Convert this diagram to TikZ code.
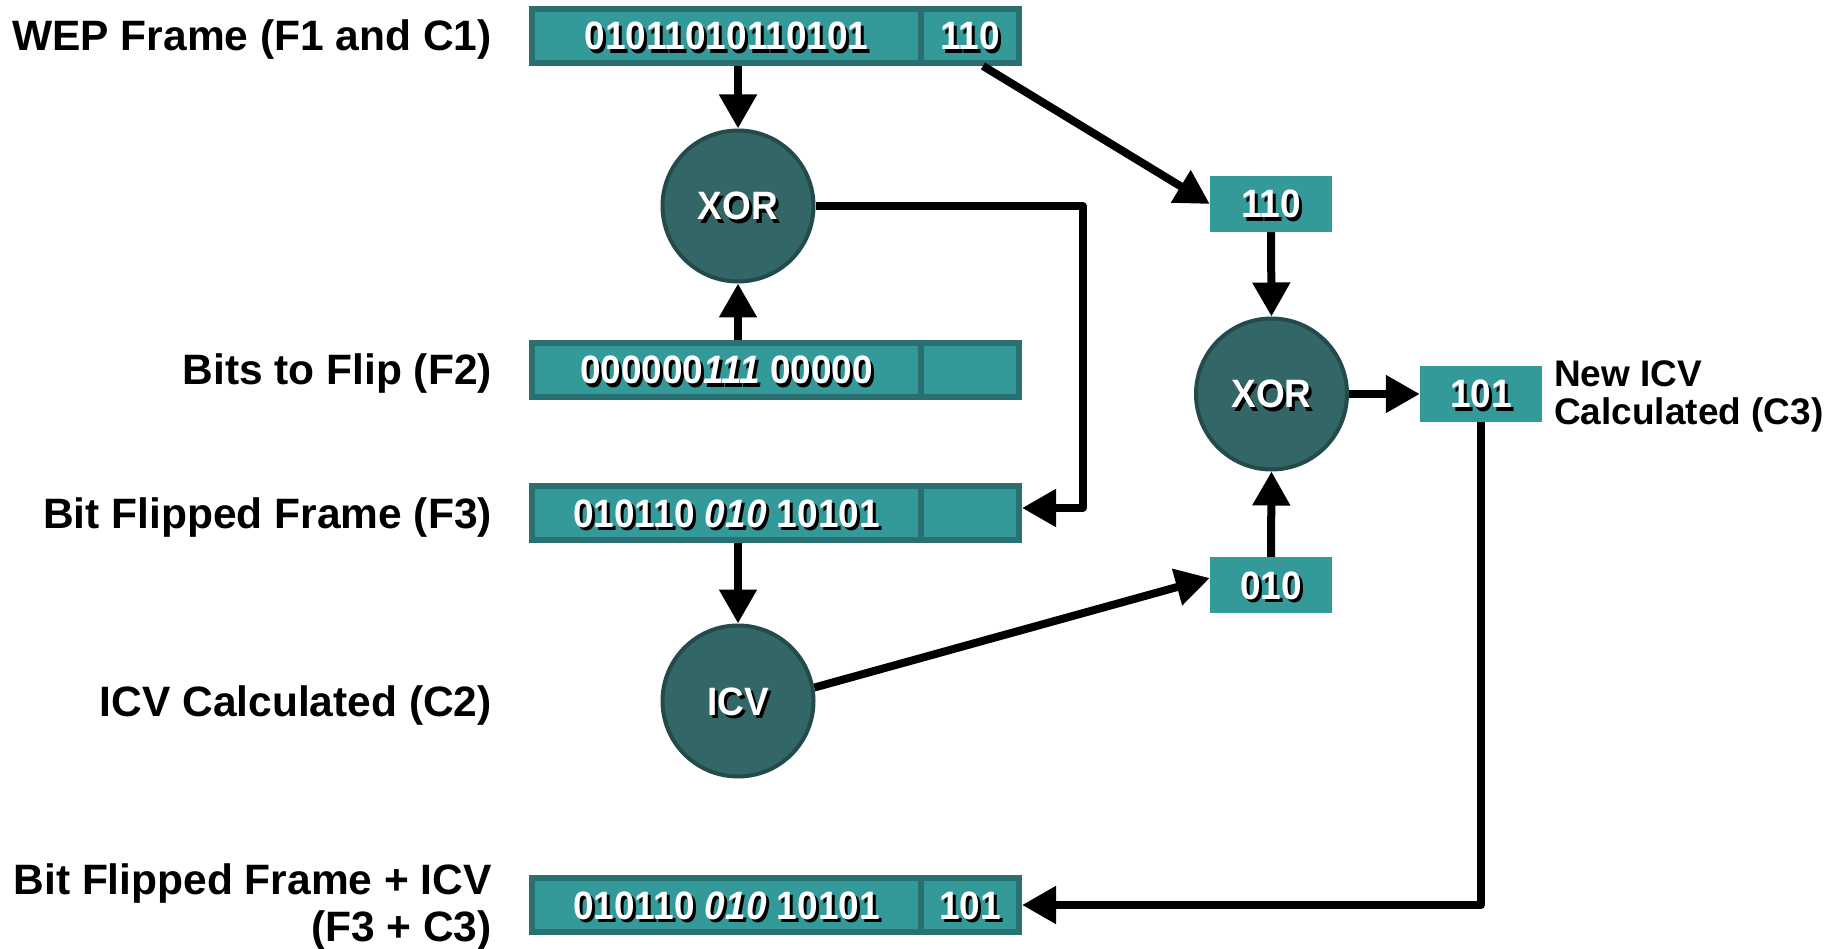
\documentclass[tikz,border=0pt]{standalone}
\usepackage{fontspec}
\setmainfont{Liberation Sans}
\usetikzlibrary{arrows.meta}

\definecolor{cellfill}{HTML}{339999}
\definecolor{cellline}{HTML}{2A7070}
\definecolor{gatefill}{HTML}{336666}
\definecolor{gateline}{HTML}{234B4B}

% white text with a dark drop shadow, set slightly taller than wide
\newcommand\shadowed[1]{\scalebox{1}[1.07]{\rlap{\kern3pt\raisebox{-3pt}{\color{black}#1}}#1}}

\begin{document}
\begin{tikzpicture}[x=1pt,y=-1pt,
  cell/.style={draw=cellline, fill=cellfill, line width=6pt, minimum height=54pt,
    inner sep=0pt, text=white, font=\fontsize{37}{40}\selectfont\bfseries,
    text height=28pt, text depth=0pt},
  datacell/.style={cell, minimum width=389pt},
  icvcell/.style={cell, minimum width=98pt},
  bitbox/.style={fill=cellfill, minimum width=122pt, minimum height=56pt, inner sep=0pt,
    text=white, font=\fontsize{37}{40}\selectfont\bfseries, text height=28pt, text depth=0pt},
  gate/.style={circle, draw=gateline, fill=gatefill, line width=4pt, minimum size=151pt,
    inner sep=0pt, text=white, font=\fontsize{37}{38}\selectfont\bfseries,
    text height=28pt, text depth=0pt},
  rowlabel/.style={font=\fontsize{42.5}{48}\selectfont\bfseries, inner sep=0pt, anchor=base east},
  sidelabel/.style={font=\fontsize{37}{38}\selectfont\bfseries, inner sep=0pt, anchor=base west},
  arr/.style={line width=8pt, line join=round, -{Triangle[length=34pt,width=36pt]}}
]
\useasboundingbox (0,0) rectangle (1832,949);

% row labels
\node[rowlabel] (lf1) at (492,51)  {WEP Frame (F1 and C1)};
\node[rowlabel] (lf2) at (492,385) {Bits to Flip (F2)};
\node[rowlabel] (lf3) at (492,528) {Bit Flipped Frame (F3)};
\node[rowlabel] (lc2) at (492,716) {ICV Calculated (C2)};
\node[rowlabel] (lf4a) at (492,894) {Bit Flipped Frame + ICV};
\node[rowlabel] (lf4b) at (492,941) {(F3 + C3)};

% frames: data part + ICV part
\node[datacell] (f1l) at (726.5,36) {\shadowed{01011010110101}};
\node[icvcell]  (f1r) at (970,36)   {\shadowed{110}};
\node[datacell] (f2l) at (726.5,370) {\shadowed{000000\textit{111} 00000}};
\node[icvcell]  (f2r) at (970,370)   {};
\node[datacell] (f3l) at (726.5,513) {\shadowed{010110 \textit{010} 10101}};
\node[icvcell]  (f3r) at (970,513)   {};
\node[datacell] (f4l) at (726.5,905) {\shadowed{010110 \textit{010} 10101}};
\node[icvcell]  (f4r) at (970,905)   {\shadowed{101}};

% operations
\node[gate] (xor1) at (738,206) {\shadowed{XOR}};
\node[gate] (icv)  at (738,701) {\shadowed{ICV}};
\node[gate] (xor2) at (1271.5,394) {\shadowed{XOR}};

% ICV values
\node[bitbox] (b110) at (1271,204) {\shadowed{110}};
\node[bitbox] (b101) at (1481,394) {\shadowed{101}};
\node[bitbox] (b010) at (1271,585) {\shadowed{010}};

\node[sidelabel] (nl1) at (1554,387) {New ICV};
\node[sidelabel] (nl2) at (1554,425) {Calculated (C3)};

% flow
\draw[arr] (f1l.south -| xor1) -- (xor1.north);
\draw[arr] (f2l.north -| xor1) -- (xor1.south);
\coordinate (k1) at (1082.5,206);
\draw[arr] (xor1.east) -- (k1) |- ([yshift=5pt]f3r.east);
\draw[arr] (f3l.south -| icv) -- (icv.north);
\draw[arr] ([xshift=13pt]f1r.south) -- (b110.west);
\draw[arr] (b110.south) -- (xor2.north);
\draw[arr] (icv.10) -- ([yshift=7pt]b010.west);
\draw[arr] (b010.north) -- (xor2.south);
\draw[arr] (xor2.east) -- (b101.west);
\draw[arr] (b101.south) |- (f4r.east);
\end{tikzpicture}
\end{document}
